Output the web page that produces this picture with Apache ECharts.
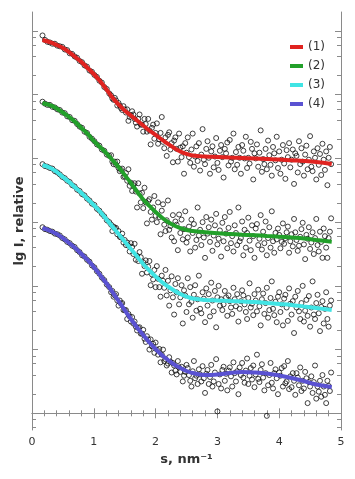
<!DOCTYPE html>
<html>
<head>
<meta charset="utf-8">
<script src="https://cdn.jsdelivr.net/npm/echarts@6/dist/echarts.min.js"></script>
<style>
html,body{margin:0;padding:0;background:#fff;}
#chart{width:355px;height:479px;}
</style>
</head>
<body>
<div id="chart"></div>
<script>
// ---- data ----
const SERIES_NAMES = ['(1)', '(2)', '(3)', '(4)'];
const X_TICK_LABELS = ['0', '1', '2', '3', '4', '5'];
const Y_DECADES = [-1, 0, 1, 2, 3, 4, 5, 6];
const Y_MINOR_MULT = [2, 4, 6, 8];

// measured points: s (nm^-1)
const S_PTS = [0.17,0.21,0.25,0.29,0.33,0.37,0.41,0.45,0.49,0.53,0.57,0.61,0.65,0.69,0.73,0.77,0.81,0.85,0.89,0.93,0.97,1.01,1.05,1.09,1.13,1.17,1.21,1.25,
1.28,1.30,1.32,1.34,1.36,1.38,1.40,1.42,1.44,1.46,1.48,1.50,1.52,1.54,1.56,1.58,1.60,1.62,1.64,1.66,1.68,1.70,1.72,1.74,1.76,1.78,1.80,1.82,1.84,1.86,1.88,1.90,1.92,1.94,1.96,1.98,
2.00,2.02,2.04,2.06,2.08,2.10,2.12,2.14,2.16,2.18,2.20,2.22,2.24,2.26,2.28,2.30,2.32,2.34,2.36,2.38,2.40,2.42,2.44,2.46,2.48,2.50,2.52,2.54,2.56,2.58,2.60,2.62,2.64,2.66,2.68,2.70,2.72,2.74,2.76,2.78,2.80,2.82,2.84,2.86,2.88,2.90,2.92,2.94,2.96,2.98,
3.00,3.02,3.04,3.06,3.08,3.10,3.12,3.14,3.16,3.18,3.20,3.22,3.24,3.26,3.28,3.30,3.32,3.34,3.36,3.38,3.40,3.42,3.44,3.46,3.48,3.50,3.52,3.54,3.56,3.58,3.60,3.62,3.64,3.66,3.68,3.70,3.72,3.74,3.76,3.78,3.80,3.82,3.84,3.86,3.88,3.90,3.92,3.94,3.96,3.98,
4.00,4.02,4.04,4.06,4.08,4.10,4.12,4.14,4.16,4.18,4.20,4.22,4.24,4.26,4.28,4.30,4.32,4.34,4.36,4.38,4.40,4.42,4.44,4.46,4.48,4.50,4.52,4.54,4.56,4.58,4.60,4.62,4.64,4.66,4.68,4.70,4.72,4.74,4.76,4.78,4.80,4.82,4.84];

// measured lg I (curves offset vertically)
const PTS1 = [5.93,5.86,5.83,5.82,5.80,5.80,5.77,5.76,5.75,5.71,5.70,5.65,5.64,5.60,5.58,5.53,5.51,5.46,5.44,5.38,5.36,5.31,5.28,5.22,5.19,5.12,5.09,5.02,
4.99,4.94,4.92,4.95,4.91,4.83,4.87,4.83,4.79,4.76,4.82,4.77,4.72,4.77,4.59,4.65,4.68,4.74,4.69,4.62,4.56,4.50,4.62,4.69,4.53,4.53,4.42,4.62,4.54,4.42,4.62,4.44,4.22,4.48,4.53,4.31,
4.40,4.55,4.23,4.30,4.40,4.65,4.26,4.16,4.33,4.04,4.37,4.41,4.14,4.24,3.94,4.28,4.33,4.15,3.95,4.39,4.17,4.02,4.19,3.76,4.24,4.09,4.33,4.02,3.93,4.14,4.39,3.87,4.03,4.19,3.96,4.24,3.81,4.06,4.46,3.98,3.91,4.15,4.27,4.01,3.76,4.11,4.19,3.86,4.03,4.32,
3.93,3.82,4.12,4.21,4.02,3.70,4.15,4.08,4.25,3.89,4.29,3.95,4.01,4.39,3.83,4.10,3.90,4.18,4.01,3.76,4.21,4.12,4.00,4.34,3.85,4.01,3.92,4.26,4.15,3.67,4.08,4.00,4.22,3.87,4.09,4.44,3.79,3.99,3.91,4.15,3.83,4.28,4.05,3.90,3.73,4.18,4.08,3.97,4.34,3.85,
4.11,3.76,3.98,4.21,3.92,3.68,4.13,4.02,4.24,3.86,3.98,4.14,3.60,4.08,4.04,3.78,4.27,3.91,4.16,3.95,3.73,4.06,4.20,3.83,3.98,4.35,3.87,3.80,4.11,4.01,3.67,4.16,3.90,4.07,3.74,4.23,3.98,3.82,4.11,3.58,4.01,4.18,3.91];
const PTS2 = [4.89,4.86,4.84,4.84,4.81,4.80,4.77,4.76,4.72,4.71,4.66,4.65,4.60,4.59,4.54,4.50,4.48,4.42,4.40,4.34,4.31,4.27,4.22,4.20,4.14,4.12,4.06,4.04,
4.05,3.95,3.91,3.95,3.90,3.95,3.85,3.80,3.82,3.84,3.71,3.72,3.77,3.65,3.83,3.57,3.62,3.49,3.58,3.61,3.48,3.23,3.61,3.45,3.31,3.46,3.22,3.54,3.31,2.98,3.33,3.36,3.16,3.04,3.23,3.41,
3.10,3.00,3.31,3.08,2.81,3.18,3.28,2.96,2.86,3.03,3.34,2.88,2.94,2.76,3.11,2.70,3.01,2.96,2.56,3.12,2.83,3.04,2.73,2.89,3.17,2.68,2.76,2.93,2.54,3.04,2.83,2.97,2.60,2.72,3.23,2.79,2.88,2.64,3.00,2.76,2.44,3.08,2.82,2.92,2.69,3.04,2.55,2.79,2.95,3.13,
2.65,2.74,2.87,2.46,2.99,2.70,3.08,2.82,2.59,2.91,3.16,2.67,2.78,2.54,2.95,2.83,2.64,3.23,2.70,2.75,3.01,2.48,2.88,2.60,2.83,3.07,2.71,2.56,2.95,2.78,2.44,2.90,2.97,2.64,2.74,3.11,2.57,2.85,2.67,3.01,2.48,2.75,2.92,2.60,3.17,2.70,2.52,2.83,2.73,2.90,
2.80,2.59,2.69,2.98,2.66,2.75,2.84,2.93,2.52,2.70,2.81,2.62,3.05,2.84,2.72,2.55,2.63,2.77,2.89,2.99,2.65,2.42,2.80,2.74,2.92,2.58,2.68,2.84,2.50,2.75,3.05,2.64,2.54,2.85,2.69,2.44,2.90,2.78,2.60,2.44,2.75,2.85,3.06];
const PTS3 = [3.91,3.88,3.87,3.85,3.84,3.80,3.78,3.75,3.71,3.69,3.65,3.63,3.58,3.56,3.51,3.49,3.44,3.42,3.37,3.34,3.29,3.27,3.21,3.18,3.13,3.09,3.03,3.00,
2.96,2.86,2.93,2.90,2.91,2.81,2.86,2.77,2.76,2.82,2.68,2.72,2.64,2.68,2.63,2.54,2.67,2.61,2.50,2.66,2.41,2.47,2.39,2.53,2.45,2.19,2.37,2.31,2.40,2.21,2.30,2.39,2.01,2.18,2.10,2.25,
1.98,2.31,2.11,1.98,1.83,2.16,2.08,1.97,2.25,1.85,2.08,1.69,1.93,2.15,1.82,1.55,2.03,1.90,2.12,1.71,1.82,2.01,1.41,1.93,1.85,1.59,2.12,1.71,1.98,1.75,1.50,1.86,2.01,1.61,1.79,2.16,1.64,1.57,1.90,1.80,1.43,1.96,1.69,1.87,1.52,2.05,1.77,1.60,1.92,1.35,
1.82,2.00,1.69,1.79,1.62,1.71,1.92,1.82,1.53,1.85,1.76,1.66,1.56,1.97,1.79,1.68,1.87,1.44,1.64,1.76,1.93,1.85,1.71,1.59,1.48,1.81,2.04,1.66,1.72,1.54,1.87,1.77,1.60,1.94,1.68,1.38,1.79,1.88,1.56,1.73,1.97,1.50,1.62,1.81,2.07,1.64,1.54,1.75,1.43,1.83,
1.90,1.59,1.71,1.38,1.80,1.86,1.66,1.45,1.96,1.72,1.55,1.76,1.26,1.83,1.66,1.92,1.60,1.48,1.73,2.00,1.44,1.61,1.78,1.53,1.84,1.36,1.66,2.07,1.55,1.48,1.73,1.86,1.57,1.29,1.67,1.76,1.41,1.64,1.90,1.48,1.36,1.69,1.77];
const PTS4 = [2.92,2.89,2.88,2.86,2.85,2.82,2.81,2.79,2.75,2.73,2.69,2.67,2.63,2.61,2.56,2.53,2.48,2.46,2.41,2.38,2.32,2.29,2.23,2.19,2.13,2.09,2.02,1.98,
1.90,1.92,1.83,1.85,1.87,1.77,1.69,1.77,1.72,1.73,1.62,1.62,1.62,1.48,1.56,1.52,1.44,1.51,1.41,1.44,1.36,1.30,1.34,1.35,1.25,1.25,1.31,1.17,1.12,1.21,1.16,1.00,1.16,1.05,1.09,0.95,
1.11,1.00,0.92,1.01,0.80,0.92,1.00,0.82,0.85,0.75,0.78,0.88,0.81,0.64,0.79,0.75,0.67,0.61,0.82,0.72,0.65,0.73,0.50,0.59,0.65,0.76,0.71,0.60,0.51,0.42,0.66,0.82,0.55,0.59,0.46,0.69,0.61,0.50,0.74,0.55,0.32,0.62,0.68,0.46,0.57,0.76,0.42,0.50,0.64,0.85,
0.03,0.46,0.61,0.39,0.68,0.73,0.51,0.62,0.36,0.67,0.72,0.58,0.42,0.80,0.63,0.50,0.66,0.30,0.72,0.60,0.79,0.56,0.48,0.67,0.86,0.46,0.59,0.71,0.53,0.75,0.41,0.61,0.92,0.54,0.49,0.68,0.77,0.56,0.36,0.63,-0.04,0.44,0.60,0.79,0.48,0.39,0.63,0.69,0.55,0.30,
0.64,0.59,0.71,0.42,0.74,0.47,0.50,0.82,0.38,0.58,0.41,0.63,0.51,0.29,0.63,0.56,0.44,0.72,0.35,0.51,0.39,0.65,0.55,0.16,0.49,0.42,0.58,0.32,0.49,0.75,0.23,0.42,0.34,0.51,0.26,0.60,0.42,0.29,0.16,0.51,0.43,0.35,0.64];

// fitted curves
const FIT_S = [0.17,0.3,0.4,0.5,0.6,0.7,0.8,0.9,1.0,1.1,1.2,1.3,1.4,1.5,1.6,1.7,1.8,1.9,2.0,2.1,2.2,2.3,2.4,2.5,2.6,2.8,3.0,3.2,3.4,3.6,3.8,4.0,4.2,4.4,4.6,4.85];
const FIT1 = [5.859,5.820,5.780,5.733,5.670,5.592,5.513,5.419,5.325,5.215,5.090,4.956,4.847,4.752,4.674,4.595,4.517,4.438,4.368,4.297,4.227,4.164,4.109,4.070,4.046,4.030,4.023,4.015,4.007,3.999,3.991,3.983,3.971,3.960,3.944,3.913];
const FIT2 = [4.870,4.831,4.784,4.721,4.650,4.572,4.478,4.384,4.274,4.180,4.085,3.976,3.866,3.740,3.615,3.481,3.356,3.254,3.159,3.073,3.002,2.948,2.908,2.877,2.861,2.841,2.825,2.814,2.803,2.794,2.783,2.772,2.759,2.744,2.720,2.693];
const FIT3 = [3.897,3.850,3.787,3.709,3.630,3.544,3.458,3.363,3.269,3.167,3.050,2.932,2.814,2.696,2.579,2.461,2.343,2.241,2.147,2.061,1.990,1.927,1.873,1.833,1.802,1.778,1.771,1.763,1.755,1.747,1.731,1.716,1.700,1.676,1.653,1.621];
const FIT4 = [2.908,2.861,2.814,2.751,2.673,2.594,2.500,2.406,2.296,2.171,2.045,1.904,1.763,1.621,1.480,1.347,1.229,1.111,1.009,0.915,0.837,0.766,0.711,0.664,0.633,0.601,0.609,0.633,0.648,0.641,0.625,0.593,0.554,0.507,0.452,0.413];

const COLORS = ['#e02320', '#22a02a', '#40e4e4', '#5a52d2'];

// ---- build ----
const Y_MIN = -0.262, Y_MAX = 6.298;
const majorY = Y_DECADES.filter(v => v >= Y_MIN && v <= Y_MAX);
const minorY = [];
Y_DECADES.forEach(d => Y_MINOR_MULT.forEach(m => {
  const v = d + Math.log10(m);
  if (v > Y_MIN && v < Y_MAX - 0.005) minorY.push(v);
}));

const pts = [PTS1, PTS2, PTS3, PTS4];
const fits = [FIT1, FIT2, FIT3, FIT4];
const zip = (xs, ys) => xs.map((x, i) => [x, ys[i]]);

const frameColor = '#8a8a8a';
const font = 'DejaVu Sans';

function yAx(pos, values, len, showLine) {
  return {
    type: 'value', position: pos, min: Y_MIN, max: Y_MAX, gridIndex: 0,
    axisLine: { show: showLine, lineStyle: { color: frameColor, width: 1 } },
    axisTick: { show: true, inside: true, length: len, customValues: values, lineStyle: { color: frameColor } },
    axisLabel: { show: false },
    splitLine: { show: false }
  };
}

const series = [];
pts.forEach((p, i) => {
  series.push({
    type: 'scatter', data: zip(S_PTS, p), symbol: 'circle', symbolSize: 5,
    itemStyle: { color: 'rgba(255,255,255,0)', borderColor: '#111', borderWidth: 1 },
    z: 2, silent: true
  });
});
fits.forEach((f, i) => {
  series.push({
    name: SERIES_NAMES[i], type: 'line', data: zip(FIT_S, f), smooth: 0.4,
    showSymbol: false, lineStyle: { color: COLORS[i], width: 4 }, itemStyle: { color: COLORS[i] },
    z: 3
  });
});

const chart = echarts.init(document.getElementById('chart'), null, { renderer: 'canvas' });
chart.setOption({
  animation: false,
  backgroundColor: '#fff',
  grid: { left: 32, right: 14, top: 12, bottom: 49, containLabel: false },
  legend: {
    data: SERIES_NAMES, orient: 'vertical', left: 285, top: 35,
    icon: 'rect', itemWidth: 13, itemHeight: 4, itemGap: 5,
    textStyle: { fontFamily: font, fontSize: 12, color: '#333', lineHeight: 14 }
  },
  xAxis: [
    {
      type: 'value', position: 'bottom', min: 0, max: 5, interval: 1,
      name: 's, nm⁻¹', nameLocation: 'middle', nameGap: 22,
      nameTextStyle: { fontFamily: font, fontSize: 13, fontWeight: 'bold', color: '#333' },
      axisLine: { lineStyle: { color: frameColor } },
      axisTick: { inside: true, length: 5, lineStyle: { color: frameColor } },
      minorTick: { show: true, splitNumber: 5, length: 3, lineStyle: { color: frameColor } },
      axisLabel: { fontFamily: font, fontSize: 11, color: '#333', margin: 7,
        formatter: (v) => X_TICK_LABELS[Math.round(v)] },
      splitLine: { show: false }
    },
    {
      type: 'value', position: 'top', min: 0, max: 5, interval: 1,
      axisLine: { lineStyle: { color: frameColor } },
      axisTick: { inside: true, length: 5, lineStyle: { color: frameColor } },
      minorTick: { show: true, splitNumber: 5, length: 3, lineStyle: { color: frameColor } },
      axisLabel: { show: false }, splitLine: { show: false }
    }
  ],
  yAxis: [
    Object.assign(yAx('left', majorY, 6, true), {
      name: 'lg I, relative', nameLocation: 'middle', nameGap: 6,
      nameTextStyle: { fontFamily: font, fontSize: 13, fontWeight: 'bold', color: '#333' }
    }),
    yAx('left', minorY, 4, false),
    yAx('right', majorY, 6, true),
    yAx('right', minorY, 4, false)
  ],
  series: series
});
</script>
</body>
</html>
